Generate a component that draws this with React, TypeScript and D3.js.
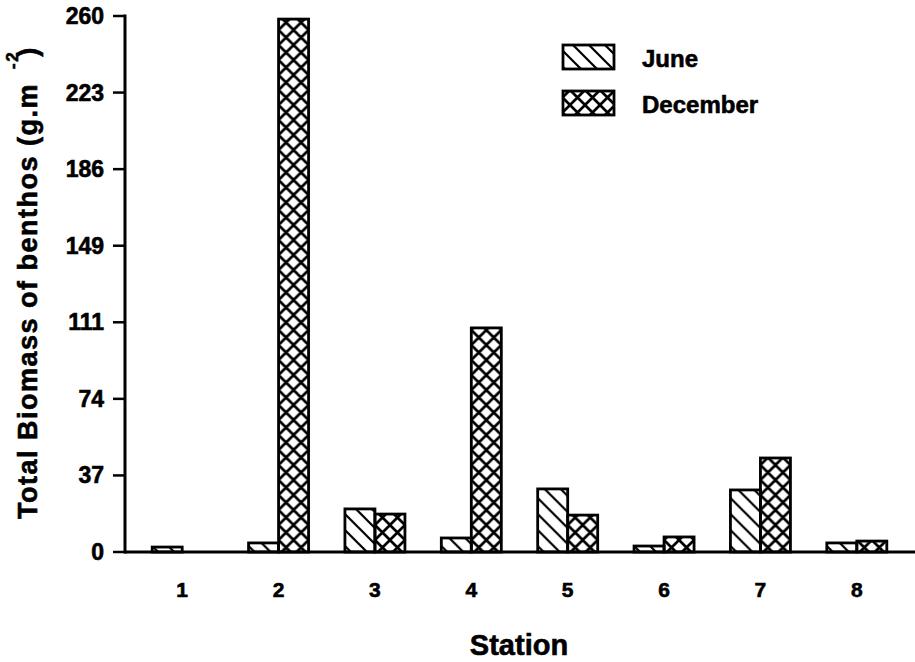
import React, { useRef, useEffect } from 'react';
import * as d3 from 'd3';

// values (g.m^-2)
const stations = ['1', '2', '3', '4', '5', '6', '7', '8'];
const june = [2.4, 4.4, 20.9, 6.8, 30.6, 2.9, 30.1, 4.4];
const december = [0, 258.5, 18.4, 108.7, 17.9, 7.3, 45.6, 5.3];
const seriesNames = ['June', 'December'];
const yTickLabels = ['0', '37', '74', '111', '149', '186', '223', '260'];
const yMax = 260;

const App = () => {
  const ref = useRef<SVGSVGElement | null>(null);

  useEffect(() => {
    const svg = d3.select(ref.current);
    svg.selectAll('*').remove();

    const width = 915;
    const axisX = 125;
    const font = "'Liberation Sans', Arial, Helvetica, sans-serif";

    const y = d3.scaleLinear().domain([0, yMax]).range([552, 16]);
    const x = d3.scaleBand().domain(stations).range([134, 905]).padding(0);
    const inner = d3.scaleBand().domain(seriesNames).range([-30, 30]).padding(0);

    // scanned-looking heavy text
    const boldText = (sel: any, size: number) =>
      sel.attr('font-family', font)
        .attr('font-weight', 'bold')
        .attr('font-size', size)
        .attr('fill', '#000')
        .attr('stroke', '#000')
        .attr('stroke-width', 0.6);

    // hatch patterns
    const defs = svg.append('defs');
    defs.append('pattern')
      .attr('id', 'hatch-june')
      .attr('patternUnits', 'userSpaceOnUse')
      .attr('width', 16)
      .attr('height', 16)
      .append('path')
      .attr('d', 'M0,0L16,16M-4,12L4,20M12,-4L20,4')
      .attr('stroke', '#000')
      .attr('stroke-width', 2.2);

    defs.append('pattern')
      .attr('id', 'hatch-dec')
      .attr('patternUnits', 'userSpaceOnUse')
      .attr('width', 15)
      .attr('height', 15)
      .append('path')
      .attr('d', 'M0,0L15,15M-4,11L4,19M11,-4L19,4M0,15L15,0M-4,4L4,-4M11,19L19,11')
      .attr('stroke', '#000')
      .attr('stroke-width', 2.7);

    const fills: Record<string, string> = { June: 'url(#hatch-june)', December: 'url(#hatch-dec)' };

    const rows = stations.map((s, i) => ({ station: s, values: [june[i], december[i]] }));

    // bars
    const groups = svg.selectAll('.station')
      .data(rows)
      .enter()
      .append('g')
      .attr('transform', d => `translate(${(x(d.station) as number) + x.bandwidth() / 2},0)`);

    groups.selectAll('rect')
      .data(d => d.values.map((v, j) => ({ key: seriesNames[j], value: v })).filter(b => b.value > 0))
      .enter()
      .append('rect')
      .attr('x', d => inner(d.key) as number)
      .attr('y', d => y(d.value))
      .attr('width', inner.bandwidth())
      .attr('height', d => y(0) - y(d.value))
      .attr('fill', d => fills[d.key])
      .attr('stroke', '#000')
      .attr('stroke-width', 2.8);

    // axes
    svg.append('line')
      .attr('x1', axisX).attr('x2', width)
      .attr('y1', y(0)).attr('y2', y(0))
      .attr('stroke', '#000').attr('stroke-width', 3);
    svg.append('line')
      .attr('x1', axisX).attr('x2', axisX)
      .attr('y1', y(yMax) - 1.5).attr('y2', y(0) + 1.5)
      .attr('stroke', '#000').attr('stroke-width', 3);

    const yTicks = yTickLabels.map((label, i) => ({ label, value: (yMax * i) / (yTickLabels.length - 1) }));
    svg.selectAll('.ytick')
      .data(yTicks)
      .enter()
      .append('line')
      .attr('x1', axisX - 12).attr('x2', axisX)
      .attr('y1', d => y(d.value)).attr('y2', d => y(d.value))
      .attr('stroke', '#000').attr('stroke-width', 2.5);
    boldText(svg.selectAll('.ylabel')
      .data(yTicks)
      .enter()
      .append('text')
      .attr('x', 104)
      .attr('y', d => y(d.value) + 8)
      .attr('text-anchor', 'end'), 23)
      .text(d => d.label);

    boldText(svg.selectAll('.xlabel')
      .data(stations)
      .enter()
      .append('text')
      .attr('x', d => (x(d) as number) + x.bandwidth() / 2)
      .attr('y', 597)
      .attr('text-anchor', 'middle'), 21)
      .text(d => d);

    // axis titles
    boldText(svg.append('text')
      .attr('x', 519)
      .attr('y', 655)
      .attr('text-anchor', 'middle'), 29)
      .text('Station');

    const yt = boldText(svg.append('text')
      .attr('transform', 'translate(37,519) rotate(-90)')
      .attr('letter-spacing', 1.5), 27);
    yt.append('tspan').text('Total Biomass of benthos (g.m');
    yt.append('tspan').attr('dx', 14).attr('dy', -19).attr('font-size', 17).text('-2');
    yt.append('tspan').attr('dx', -6).attr('dy', 19).text(')');

    // legend
    const legend = svg.append('g');
    seriesNames.forEach((name, i) => {
      const ly = 45 + i * 46;
      legend.append('rect')
        .attr('x', 563).attr('y', ly)
        .attr('width', 51).attr('height', 24)
        .attr('fill', fills[name])
        .attr('stroke', '#000').attr('stroke-width', 2.8);
      boldText(legend.append('text')
        .attr('x', 642).attr('y', ly + 22), 24)
        .text(name);
    });
  }, []);

  return (
    <svg
      ref={ref}
      width={915}
      height={662}
      style={{ position: 'absolute', left: 0, top: 0, background: '#fff' }}
    />
  );
};

export default App;
